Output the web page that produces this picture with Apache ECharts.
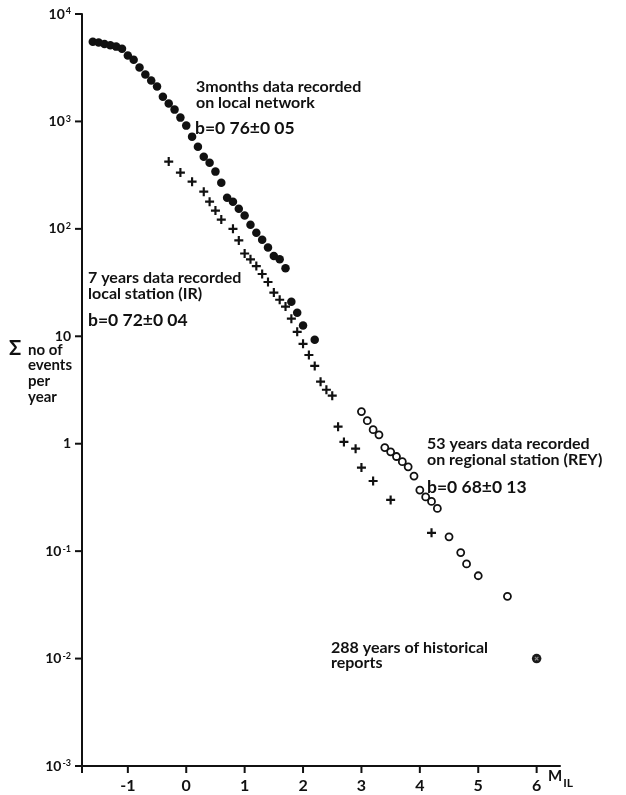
<!DOCTYPE html>
<html>
<head>
<meta charset="utf-8">
<script src="https://cdn.jsdelivr.net/npm/echarts@6/dist/echarts.min.js"></script>
<style>
html,body{margin:0;padding:0;background:#fff;}
#chart{width:626px;height:795px;}
</style>
</head>
<body>
<div id="chart"></div>
<script>
// 3 months data recorded on local network (filled circles)
const netM = [-1.6,-1.5,-1.4,-1.3,-1.2,-1.1,-1.0,-0.9,-0.8,-0.7,-0.6,-0.5,-0.4,-0.3,-0.2,-0.1,0.0,0.1,0.2,0.3,0.4,0.5,0.6,0.7,0.8,0.9,1.0,1.1,1.2,1.3,1.4,1.5,1.6,1.7,1.8,1.9,2.0,2.2];
const netN = [5530,5420,5250,5130,4970,4760,4100,3760,3170,2730,2400,2110,1700,1465,1288,1085,914,722,582,470,413,341,269,195,179,154,133,109,92,79,67,56,52,43,21,16.6,12.6,9.3];
// 7 years data recorded local station (IR) (crosses)
const irM = [-0.3,-0.1,0.1,0.3,0.4,0.5,0.6,0.8,0.9,1.0,1.1,1.2,1.3,1.4,1.5,1.6,1.7,1.8,1.9,2.0,2.1,2.2,2.3,2.4,2.5,2.6,2.7,2.9,3.0,3.2,3.5,4.2];
const irN = [423,334,275,222,179,148,122,100,78,59,52,45,38,32,25.5,21.9,18.9,14.6,11.0,8.5,6.7,5.3,3.78,3.18,2.80,1.44,1.04,0.90,0.60,0.45,0.30,0.148];
// 53 years data recorded on regional station (REY) (open circles)
const reyM = [3.0,3.1,3.2,3.3,3.4,3.5,3.6,3.7,3.8,3.9,4.0,4.1,4.2,4.3,4.5,4.7,4.8,5.0,5.5];
const reyN = [1.99,1.64,1.35,1.21,0.92,0.84,0.76,0.68,0.61,0.50,0.37,0.32,0.29,0.25,0.136,0.097,0.076,0.059,0.038];
// 288 years of historical reports
const histM = [6.0];
const histN = [0.01];
// axis ticks
const xTicks = [-1,0,1,2,3,4,5,6];
const yTicks = [0.001,0.01,0.1,1,10,100,1000,10000];
const yMin = 0.001, yMax = 10000;
const xMin = -1.785, xMax = 6.4;

const zip = (a,b) => a.map((v,i)=>[v,b[i]]);
const FONT = 'Lato';
const INK = '#111';
const plusPath = 'path://M3.8,0H6.2V3.8H10V6.2H6.2V10H3.8V6.2H0V3.8H3.8Z';

const chart = echarts.init(document.getElementById('chart'));
const txt = (x,y,s,size) => ({
  type:'text', x:x, y:y,
  style:{text:s, x:0, y:0, fill:INK, font:'bold '+size+'px '+FONT, textVerticalAlign:'middle', textAlign:'left'}
});

function tickSeries(name, data, dx, dy) {
  return {
    type:'custom', name:name, coordinateSystem:'cartesian2d', silent:true, clip:false, z:5,
    data:data,
    renderItem:function(params, api){
      const p = api.coord([api.value(0), api.value(1)]);
      return {type:'line', shape:{x1:p[0], y1:p[1], x2:p[0]+dx, y2:p[1]+dy},
        style:{stroke:INK, lineWidth:2}};
    }
  };
}

chart.setOption({
  animation:false,
  backgroundColor:'#fff',
  grid:{left:82, right:66, top:14, bottom:29, containLabel:false},
  xAxis:{
    type:'value', min:xMin, max:xMax,
    axisLine:{show:true, onZero:false, lineStyle:{color:INK, width:2}},
    axisTick:{show:false},
    axisLabel:{customValues:xTicks, margin:12, color:INK, fontFamily:FONT, fontWeight:'bold', fontSize:16},
    splitLine:{show:false}
  },
  yAxis:{
    type:'log', logBase:10, min:yMin, max:yMax, interval:1,
    axisLine:{show:true, onZero:false, lineStyle:{color:INK, width:2}},
    axisTick:{show:false},
    minorTick:{show:false},
    axisLabel:{
      margin:11, color:INK, fontFamily:FONT,
      formatter:function(v){
        const e = Math.round(Math.log10(v));
        if (e===0) return '{b|1}';
        if (e===1) return '{b|10}';
        return '{b|10}{s|'+(e<0?'-':'')+Math.abs(e)+'}';
      },
      rich:{
        b:{fontSize:14, fontWeight:'bold', fontFamily:FONT, color:INK, verticalAlign:'bottom'},
        s:{fontSize:9, fontWeight:'bold', fontFamily:FONT, color:INK, verticalAlign:'top', padding:[0,0,0,1]}
      }
    },
    splitLine:{show:false}
  },
  series:[
    tickSeries('x-ticks', [xMin].concat(xTicks).map(v=>[v,yMin]), 0, 7),
    tickSeries('y-ticks', yTicks.map(v=>[xMin,v]), -7, 0),
    {type:'scatter', name:'IR', data:zip(irM,irN), symbol:plusPath, symbolSize:9,
      itemStyle:{color:INK, opacity:1}, z:2},
    {type:'scatter', name:'local network', data:zip(netM,netN), symbol:'circle', symbolSize:8.5,
      itemStyle:{color:INK, opacity:1}, z:3},
    {type:'scatter', name:'REY', data:zip(reyM,reyN), symbol:'circle', symbolSize:7,
      itemStyle:{color:'#fff', borderColor:INK, borderWidth:1.8, opacity:1}, z:3},
    {type:'scatter', name:'historical', data:zip(histM,histN), symbol:'circle', symbolSize:9.5,
      itemStyle:{color:'#1a1a1a', opacity:1}, z:3},
    {type:'scatter', name:'historical-mark', data:zip(histM,histN), symbol:plusPath, symbolSize:5, symbolRotate:45,
      itemStyle:{color:'#888', opacity:1}, z:4, silent:true}
  ],
  graphic:[
    txt(196,87,'3months data recorded',16),
    txt(196,103,'on local network',16),
    txt(195,128,'b=0 76±0 05',17.5),
    txt(88,278,'7 years data recorded',16),
    txt(88,294,'local station (IR)',16),
    txt(88,320,'b=0 72±0 04',17.5),
    txt(427,444,'53 years data recorded',16),
    txt(427,460,'on regional station (REY)',16),
    txt(427,487,'b=0 68±0 13',17.5),
    txt(331,648,'288 years of historical',16),
    txt(331,663,'reports',16),
    txt(9,349,'Σ',20),
    txt(28,350,'no of',15),
    txt(28,365,'events',15),
    txt(28,381,'per',15),
    txt(28,397,'year',15),
    {type:'text', x:548, y:779, style:{text:'{m|M}{s|IL}', x:0, y:0, fill:INK, textVerticalAlign:'middle',
      rich:{m:{font:'bold 15px '+FONT, fill:INK, verticalAlign:'top'}, s:{font:'bold 12px '+FONT, fill:INK, verticalAlign:'bottom', padding:[8,0,0,1]}}}}
  ]
});
</script>
</body>
</html>
